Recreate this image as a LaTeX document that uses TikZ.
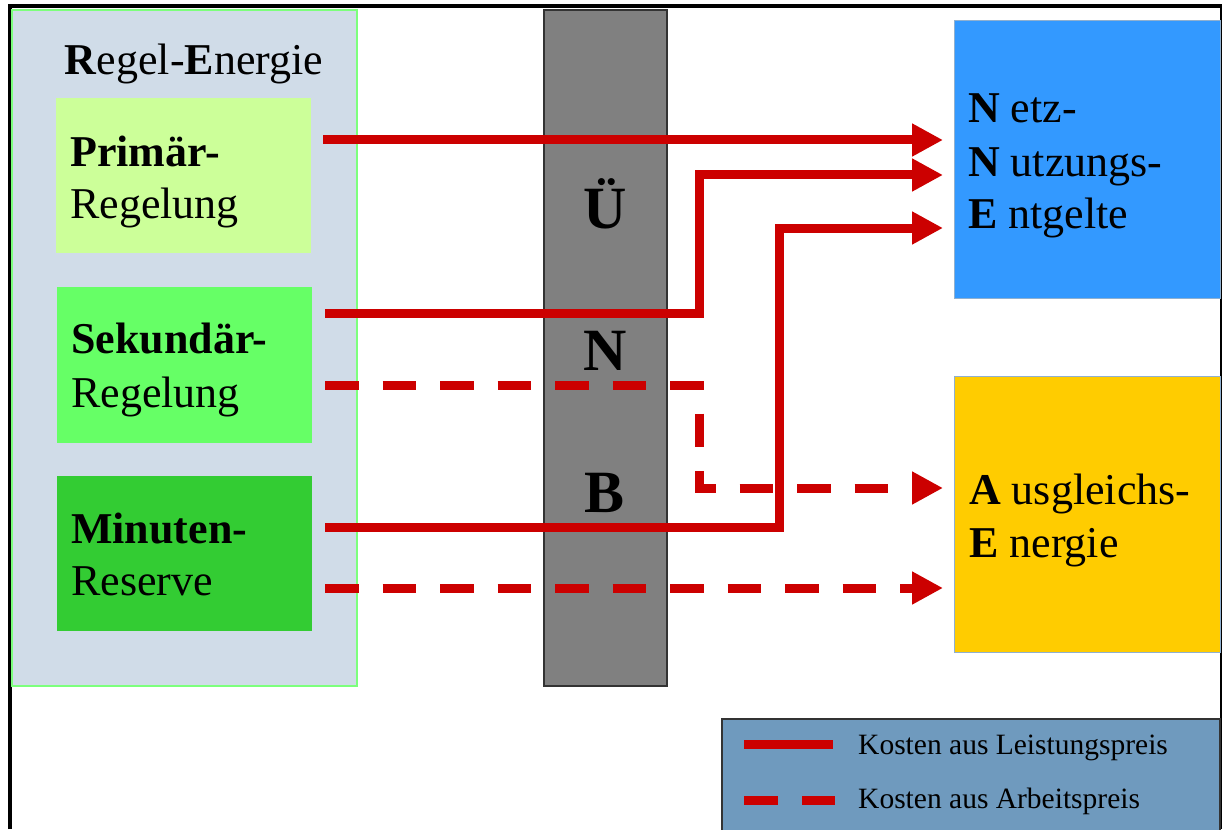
\documentclass[tikz,border=0pt]{standalone}
\usepackage{fontspec}
\setmainfont{Liberation Serif}
\usetikzlibrary{arrows.meta}
\definecolor{panelfill}{HTML}{D0DCE8}
\definecolor{panelline}{HTML}{7CFF7C}
\definecolor{primfill}{HTML}{CCFF99}
\definecolor{sekfill}{HTML}{66FF66}
\definecolor{minfill}{HTML}{33CC33}
\definecolor{barfill}{HTML}{808080}
\definecolor{barline}{HTML}{333333}
\definecolor{nnefill}{HTML}{3399FF}
\definecolor{aefill}{HTML}{FFCC00}
\definecolor{boxline}{HTML}{8FB0D0}
\definecolor{legfill}{HTML}{6F9ABE}
\definecolor{arrred}{HTML}{CC0000}
\tikzset{
  box/.style={anchor=north west, inner sep=0pt, outer sep=0pt},
  big/.style={anchor=base west, inner sep=0pt, font=\fontsize{44}{52}\selectfont},
  barletter/.style={anchor=base, inner sep=0pt, font=\fontsize{60}{70}\selectfont\bfseries},
  legtext/.style={anchor=base west, inner sep=0pt, font=\fontsize{29.5}{32}\selectfont},
  costline/.style={draw=arrred, line width=9pt, line join=miter, -{Triangle[length=31pt,width=31pt]}},
  costdash/.style={costline, dash pattern=on 33.5pt off 24pt},
}
\begin{document}
\begin{tikzpicture}[x=1pt,y=-1pt]
\useasboundingbox (0,0) rectangle (1222,829);
% frame
\draw[line width=4pt] (10,829) -- (10,6.5) -- (1222,6.5);
\draw[line width=2pt] (1221,6.5) -- (1221,829);
% left panel
\node[box, draw=panelline, line width=1.5pt, fill=panelfill, minimum width=345pt, minimum height=676pt] (regel) at (12,10) {};
\node[anchor=base, inner sep=0pt, font=\fontsize{44}{52}\selectfont] (title) at (194,75) {\textbf{R}egel-\textbf{E}nergie};
\node[box, fill=primfill, minimum width=255pt, minimum height=155pt] (prim) at (56,98) {};
\node[box, fill=sekfill, minimum width=255pt, minimum height=156pt] (sek) at (57,287) {};
\node[box, fill=minfill, minimum width=255pt, minimum height=155pt] (minr) at (57,476) {};
\node[big] (primA) at (70,167) {\textbf{Primär-}};
\node[big] (primB) at (70,218) {Regelung};
\node[big] (sekA) at (71,353) {\textbf{Sekundär-}};
\node[big] (sekB) at (71,407) {Regelung};
\node[big] (minA) at (71,543) {\textbf{Minuten-}};
\node[big] (minB) at (71,595) {Reserve};
% grey bar
\node[box, draw=barline, line width=1.2pt, fill=barfill, minimum width=123pt, minimum height=676pt] (bar) at (544,10) {};
\node[barletter] (bU) at (605,228) {Ü};
\node[barletter] (bN) at (605,370) {N};
\node[barletter] (bB) at (605,512) {B};
% targets
\node[box, draw=boxline, line width=1pt, fill=nnefill, minimum width=266pt, minimum height=277pt] (nne) at (954,21) {};
\node[big] (nneA) at (968,123) {\textbf{N} etz-};
\node[big] (nneB) at (968,176) {\textbf{N} utzungs-};
\node[big] (nneC) at (968,228) {\textbf{E} ntgelte};
\node[box, draw=boxline, line width=1pt, fill=aefill, minimum width=266pt, minimum height=276pt] (ae) at (954,376) {};
\node[big] (aeA) at (969,504) {\textbf{A} usgleichs-};
\node[big] (aeB) at (969,557) {\textbf{E} nergie};
% legend
\fill[legfill] (722,719) rectangle (1220,832);
\draw[barline, line width=1.2pt] (722,832) -- (722,719) -- (1220,719) -- (1220,832);
\node[legtext] (legA) at (858,754) {Kosten aus Leistungspreis};
\node[legtext] (legB) at (858,808) {Kosten aus Arbeitspreis};
\coordinate (lA1) at (744,744);
\coordinate (lA2) at (833,744);
\coordinate (lB1) at (744,800);
\coordinate (lB2) at (835,800);
\draw[arrred, line width=9pt] (lA1) -- (lA2);
\draw[arrred, line width=9pt, dash pattern=on 34pt off 24pt] (lB1) -- (lB2);
% connectors
\coordinate (s1) at (323,140);
\coordinate (s2) at (325,313);
\coordinate (s3) at (325,385);
\coordinate (s4) at (325,527);
\coordinate (s5) at (325,588);
\coordinate (e1) at (943,140);
\coordinate (e2) at (943,175);
\coordinate (e3) at (943,488);
\coordinate (e4) at (943,228);
\coordinate (e5) at (943,588);
\coordinate (k2) at (699,175);
\coordinate (k3) at (699,488);
\coordinate (k4) at (779,228);
\draw[costline] (s1) -- (e1);
\draw[costline] (s2) -| (k2) -- (e2);
\draw[costdash] (s3) -| (k3) -- (e3);
\draw[costline] (s4) -| (k4) -- (e4);
\draw[costdash] (s5) -- (e5);
\end{tikzpicture}
\end{document}
